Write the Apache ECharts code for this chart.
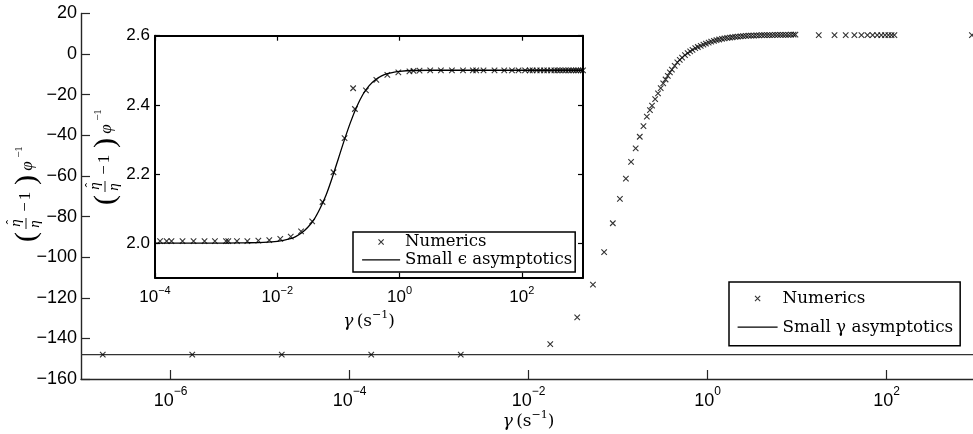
<!DOCTYPE html>
<html>
<head>
<meta charset="utf-8">
<script src="https://cdn.jsdelivr.net/npm/echarts@6/dist/echarts.min.js"></script>
<style>
  html, body { margin: 0; padding: 0; background: #fff; }
  #chart { width: 973px; height: 434px; }
</style>
</head>
<body>
<div id="chart"></div>
<script>
// ---- Main panel: numerics over the full shear-rate range ----
const mainGamma = [
  1.75e-7, 1.75e-6, 1.75e-5, 1.75e-4, 1.75e-3,
  0.0175, 0.035, 0.0525, 0.07, 0.0875, 0.105, 0.1225, 0.14, 0.1575, 0.175, 0.1925, 0.21, 0.2275,
  0.24, 0.26, 0.28, 0.30, 0.32, 0.34, 0.36, 0.38, 0.40, 0.43, 0.46, 0.49, 0.52, 0.56, 0.60, 0.64,
  0.68, 0.73, 0.78, 0.84, 0.90, 0.96, 1.03, 1.10, 1.18, 1.26, 1.35, 1.45, 1.55, 1.66, 1.78, 1.90,
  2.04, 2.18, 2.34, 2.50, 2.68, 2.87, 3.07, 3.29, 3.52, 3.77, 4.04, 4.32, 4.63, 4.95, 5.30, 5.68,
  6.08, 6.51, 6.97, 7.46, 7.99, 8.55, 9.15, 9.6,
  17.5, 26.25, 35, 43.75, 52.5, 61.25, 70, 78.75, 87.5, 96.25, 105, 113.75, 122.5, 900
];
const mainNumerics = [
  -148, -148, -148, -148, -148,
  -142.8, -129.7, -113.5, -97.5, -83.3, -71.3, -61.3, -53.1, -46.4, -40.7, -35.5, -30.8, -27.6,
  -25.4, -22.2, -19.3, -16.7, -14.4, -12.5, -10.7, -9.0, -7.6, -5.8, -4.1, -2.8, -1.7, -0.5, 0.5, 1.4,
  2.1, 2.9, 3.5, 4.1, 4.7, 5.2, 5.7, 6.1, 6.5, 6.9, 7.2, 7.45, 7.7, 7.95, 8.15, 8.3,
  8.45, 8.6, 8.75, 8.85, 8.95, 9.05, 9.1, 9.15, 9.2, 9.25, 9.3, 9.3, 9.35, 9.4, 9.4, 9.45,
  9.45, 9.5, 9.5, 9.5, 9.5, 9.55, 9.55, 9.55,
  9.3, 9.3, 9.3, 9.3, 9.3, 9.3, 9.3, 9.3, 9.3, 9.3, 9.3, 9.3, 9.3, 9.3
];
const mainAsymGamma = [1e-7, 1e3];
const mainAsymValue = [-148, -148];
const mainXTicks = [1e-6, 1e-4, 1e-2, 1, 1e2];

// ---- Inset: zoom on the transition ----
const insetGamma = [
  1.21e-4, 1.55e-4, 1.86e-4, 2.82e-4, 4.27e-4, 6.46e-4, 9.55e-4, 1.45e-3, 1.58e-3, 2.19e-3,
  3.24e-3, 4.9e-3, 7.4e-3, 0.0112, 0.0166, 0.0245, 0.0372, 0.055, 0.083, 0.126,
  0.174, 0.186, 0.282, 0.417, 0.631, 0.955, 1.45, 1.69, 2.12, 3.17,
  4.74, 7.18, 10.9, 15.8, 17.9, 23.6, 35.7, 51.5, 68.9, 88.3,
  113, 135, 150, 175, 200, 230, 260, 300, 340, 380,
  420, 470, 520, 580, 640, 700, 770, 840, 920, 1000
];
const insetNumerics = [
  2.006, 2.006, 2.006, 2.006, 2.006, 2.006, 2.006, 2.006, 2.006, 2.006,
  2.006, 2.007, 2.009, 2.012, 2.019, 2.034, 2.063, 2.119, 2.205, 2.304,
  2.448, 2.388, 2.442, 2.472, 2.487, 2.494, 2.497, 2.498, 2.499, 2.5,
  2.5, 2.5, 2.5, 2.5, 2.5, 2.5, 2.5, 2.5, 2.5, 2.5,
  2.5, 2.5, 2.5, 2.5, 2.5, 2.5, 2.5, 2.5, 2.5, 2.5,
  2.5, 2.5, 2.5, 2.5, 2.5, 2.5, 2.5, 2.5, 2.5, 2.5
];
const insetAsymGamma = [
  1e-4, 1e-3, 3e-3, 6e-3, 0.01, 0.0158, 0.02, 0.0251, 0.0316, 0.0398, 0.05, 0.0631,
  0.0794, 0.1, 0.126, 0.158, 0.2, 0.251, 0.316, 0.398, 0.5, 0.631, 1, 3.16, 1000
];
const insetAsymValue = [
  2.0, 2.0, 2.001, 2.002, 2.005, 2.012, 2.019, 2.03, 2.046, 2.068, 2.1, 2.14,
  2.19, 2.245, 2.3, 2.35, 2.395, 2.43, 2.455, 2.472, 2.483, 2.49, 2.497, 2.5, 2.5
];
const insetXTicks = [1e-4, 1e-2, 1, 1e2];
const insetYTicks = [2.0, 2.2, 2.4, 2.6];

const SANS = '"Liberation Sans", Arial, sans-serif';
const SERIF = '"DejaVu Serif", serif';
const MATH = '"Liberation Serif", serif';
const CROSS = 'path://M0 0L10 10M10 0L0 10';

const pairs = (xs, ys) => xs.map((x, i) => [x, ys[i]]);
const minus = (n) => (n < 0 ? '\u2212' + (-n) : String(n));
const powLabel = (v) => '{b|10}{e|' + minus(Math.round(Math.log10(v))) + '}';

// legend icons drawn in a w x h box: a small centred cross, or a full-width rule
const legendCross = (w, h) =>
  'path://M0 0M' + w + ' ' + h +
  'M' + (w / 2 - 2.6) + ' ' + (h / 2 - 2.6) + 'L' + (w / 2 + 2.6) + ' ' + (h / 2 + 2.6) +
  'M' + (w / 2 + 2.6) + ' ' + (h / 2 - 2.6) + 'L' + (w / 2 - 2.6) + ' ' + (h / 2 + 2.6);
const legendRule = (w, h) => 'path://M0 0M' + w + ' ' + h + 'M0 ' + (h / 2) + 'L' + w + ' ' + (h / 2);

const crossStyle = { color: 'rgba(0,0,0,0)', borderColor: '#000', borderWidth: 1.1 };
const ruleStyle = { color: 'rgba(0,0,0,0)', borderColor: '#000', borderWidth: 1.2 };

// rotated y-axis title: (η̂/η − 1) φ^−1
function yTitle(cx, cy) {
  const t = (x, y, text, size, italic) => ({
    type: 'text', x: x, y: y,
    style: {
      text: text, fontSize: size, fontFamily: MATH, fontStyle: italic ? 'italic' : 'normal',
      fill: '#000', align: 'center', verticalAlign: 'middle'
    }
  });
  return {
    type: 'group', x: cx, y: cy, rotation: Math.PI / 2, z: 50,
    children: [
      t(-44, 1, '(', 30, false),
      t(-30, -10, '\u03B7', 15, true),
      t(-29, -14, '\u02C6', 13, false),
      { type: 'line', shape: { x1: -36, y1: 0, x2: -25, y2: 0 }, style: { stroke: '#000', lineWidth: 0.9 } },
      t(-31, 9, '\u03B7', 15, true),
      t(-14, 0, '\u2212', 17, false),
      t(-3, 0, '1', 17, false),
      t(13, 1, ')', 30, false),
      t(27, 2, '\u03C6', 17, true),
      t(41, -7, '\u22121', 11, false)
    ]
  };
}

const chart = echarts.init(document.getElementById('chart'), null, { renderer: 'canvas' });

const axisNameRich = (size, supSize) => ({
  g: { fontFamily: SERIF, fontStyle: 'italic', fontSize: size, color: '#000' },
  t: { fontFamily: SERIF, fontSize: size, color: '#000' },
  e: { fontFamily: SERIF, fontSize: supSize, color: '#000', verticalAlign: 'top' }
});

chart.setOption({
  animation: false,
  backgroundColor: '#fff',
  grid: [
    { left: 81, top: 13.5, width: 895, height: 365.5, show: false, outerBoundsMode: 'none', containLabel: false },
    { left: 155, top: 35.7, width: 428, height: 242, show: true, backgroundColor: '#fff', borderWidth: 0, z: 5,
      outerBoundsMode: 'none', containLabel: false }
  ],
  xAxis: [
    {
      type: 'log', logBase: 10, gridIndex: 0, min: 1e-7, max: 1e3,
      axisLine: { show: true, onZero: false, lineStyle: { color: '#262626', width: 1.4 } },
      axisTick: { show: true, inside: true, length: 9, customValues: mainXTicks, lineStyle: { color: '#262626', width: 1.2 } },
      axisLabel: {
        customValues: mainXTicks, margin: 7, lineHeight: 30, formatter: powLabel,
        rich: {
          b: { fontFamily: SANS, fontSize: 18, color: '#000' },
          e: { fontFamily: SANS, fontSize: 12, color: '#000', verticalAlign: 'top' }
        }
      },
      splitLine: { show: false }, minorTick: { show: false },
      name: '{g|\u03B3} {t|(s}{e|\u22121}{t|)}', nameLocation: 'middle', nameGap: 31, nameMoveOverlap: false,
      nameTextStyle: { lineHeight: 24, rich: axisNameRich(17, 11) }
    },
    {
      type: 'log', logBase: 10, gridIndex: 1, min: 1e-4, max: 1e3, z: 6,
      axisLine: { show: true, onZero: false, lineStyle: { color: '#000', width: 2 } },
      axisTick: { show: true, inside: true, length: 5, customValues: insetXTicks, lineStyle: { color: '#000', width: 1.2 } },
      axisLabel: {
        customValues: insetXTicks, margin: 7.5, lineHeight: 24, formatter: powLabel,
        rich: {
          b: { fontFamily: SANS, fontSize: 17, color: '#000' },
          e: { fontFamily: SANS, fontSize: 11, color: '#000', verticalAlign: 'top' }
        }
      },
      splitLine: { show: false },
      name: '{g|\u03B3} {t|(s}{e|\u22121}{t|)}', nameLocation: 'middle', nameGap: 32, nameMoveOverlap: false,
      nameTextStyle: { lineHeight: 24, rich: axisNameRich(17, 11) }
    },
    {
      type: 'log', logBase: 10, gridIndex: 1, min: 1e-4, max: 1e3, position: 'top', z: 6,
      axisLine: { show: true, onZero: false, lineStyle: { color: '#000', width: 2 } },
      axisTick: { show: true, inside: true, length: 5, customValues: insetXTicks, lineStyle: { color: '#000', width: 1.2 } },
      axisLabel: { show: false }, splitLine: { show: false }
    }
  ],
  yAxis: [
    {
      type: 'value', gridIndex: 0, min: -160, max: 20, interval: 20,
      axisLine: { show: true, onZero: false, lineStyle: { color: '#262626', width: 1.4 } },
      axisTick: { show: true, inside: true, length: 9, lineStyle: { color: '#262626', width: 1.2 } },
      axisLabel: { margin: 4, fontFamily: SANS, fontSize: 18, color: '#000', formatter: (v) => minus(v) },
      splitLine: { show: false }
    },
    {
      type: 'value', gridIndex: 1, min: 1.9, max: 2.6, z: 6,
      axisLine: { show: true, onZero: false, lineStyle: { color: '#000', width: 2 } },
      axisTick: { show: true, inside: true, length: 5, customValues: insetYTicks, lineStyle: { color: '#000', width: 1.2 } },
      axisLabel: { customValues: insetYTicks, margin: 5, fontFamily: SANS, fontSize: 17, color: '#000', formatter: (v) => v.toFixed(1) },
      splitLine: { show: false }
    },
    {
      type: 'value', gridIndex: 1, min: 1.9, max: 2.6, position: 'right', z: 6,
      axisLine: { show: true, onZero: false, lineStyle: { color: '#000', width: 2 } },
      axisTick: { show: true, inside: true, length: 5, customValues: insetYTicks, lineStyle: { color: '#000', width: 1.2 } },
      axisLabel: { show: false }, splitLine: { show: false }
    }
  ],
  legend: [
    {
      orient: 'vertical', left: 729, top: 282, selectedMode: false,
      itemWidth: 40, itemHeight: 16, itemGap: 11.5, padding: [8, 7, 10, 8],
      borderColor: '#000', borderWidth: 1.5, backgroundColor: '#fff',
      textStyle: { fontFamily: SERIF, fontSize: 16.8, color: '#000', lineHeight: 16 },
      data: [
        { name: 'Numerics', icon: legendCross(40, 16), itemStyle: crossStyle },
        { name: 'Small \u03B3 asymptotics', icon: legendRule(40, 16), itemStyle: ruleStyle }
      ]
    },
    {
      orient: 'vertical', left: 353, top: 232, selectedMode: false, z: 10,
      itemWidth: 38, itemHeight: 16, itemGap: 0.6, padding: [1.5, 3, 3.5, 8.5],
      borderColor: '#000', borderWidth: 1.5, backgroundColor: '#fff',
      textStyle: { fontFamily: SERIF, fontSize: 16.5, color: '#000', lineHeight: 16 },
      data: [
        { name: 'Numerics', icon: legendCross(38, 16), itemStyle: crossStyle },
        { name: 'Small \u03F5 asymptotics', icon: legendRule(38, 16), itemStyle: ruleStyle }
      ]
    }
  ],
  graphic: [yTitle(26, 193), yTitle(105, 156)],
  series: [
    {
      name: 'Numerics', type: 'scatter', xAxisIndex: 0, yAxisIndex: 0, silent: true,
      symbol: CROSS, symbolSize: 5.5, itemStyle: crossStyle,
      data: pairs(mainGamma, mainNumerics), z: 3
    },
    {
      name: 'Small \u03B3 asymptotics', type: 'line', xAxisIndex: 0, yAxisIndex: 0, silent: true,
      symbol: 'none', lineStyle: { color: '#333', width: 1.4 },
      data: pairs(mainAsymGamma, mainAsymValue), z: 2
    },
    {
      name: 'Numerics', type: 'scatter', xAxisIndex: 1, yAxisIndex: 1, silent: true,
      symbol: CROSS, symbolSize: 5.5, itemStyle: crossStyle,
      data: pairs(insetGamma, insetNumerics), z: 8
    },
    {
      name: 'Small \u03F5 asymptotics', type: 'line', xAxisIndex: 1, yAxisIndex: 1, silent: true,
      symbol: 'none', smooth: 0.3, lineStyle: { color: '#000', width: 1.3 },
      data: pairs(insetAsymGamma, insetAsymValue), z: 7
    }
  ]
});
</script>
</body>
</html>
